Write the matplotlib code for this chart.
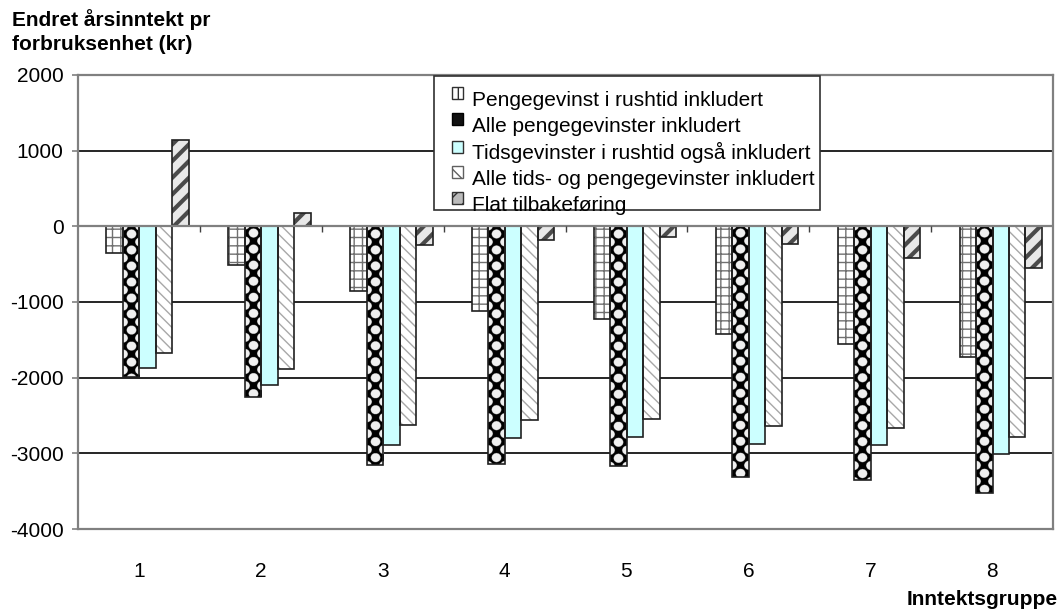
import numpy as np
import matplotlib.pyplot as plt
from matplotlib.patches import Patch, Rectangle
from matplotlib.legend_handler import HandlerPatch

plt.rcParams['font.family'] = ['Liberation Sans', 'DejaVu Sans']
plt.rcParams['axes.unicode_minus'] = False

groups = ['1', '2', '3', '4', '5', '6', '7', '8']
series = ['Pengegevinst i rushtid inkludert',
          'Alle pengegevinster inkludert',
          'Tidsgevinster i rushtid også inkludert',
          'Alle tids- og pengegevinster inkludert',
          'Flat tilbakeføring']

penger_rush = [-356, -509, -858, -1125, -1231, -1429, -1552, -1728]
penger_alle = [-1990, -2260, -3157, -3144, -3161, -3319, -3355, -3530]
tid_rush = [-1877, -2102, -2893, -2792, -2779, -2871, -2884, -3003]
tid_alle = [-1679, -1887, -2629, -2554, -2541, -2643, -2660, -2784]
flat = [1140, 172, -250, -175, -145, -232, -417, -554]

values = [penger_rush, penger_alle, tid_rush, tid_alle, flat]

GREY = '#808080'
bw = 0.1353
shift = 0.071
period = 211.0  # vertical repeat of the diamond texture, in data units

fig = plt.figure(figsize=(10.61, 6.12), dpi=100)
ax = fig.add_axes([0.0735, 0.1356, 0.9190, 0.7419])

x = np.arange(len(groups))


def diamond_texture(ax, rect, val):
    # light grey circles on black, leaving a column of black diamonds
    x0 = rect.get_x()
    w = rect.get_width()
    lo, hi = min(0, val), max(0, val)
    nx = 60
    ny = max(2, int(nx * (hi - lo) / period))
    a = (np.arange(nx) + 0.5) / nx
    b = hi - (np.arange(ny) + 0.5) / ny * (hi - lo)
    A, B = np.meshgrid(a, b / period)
    fb = B - np.floor(B)
    d1 = np.hypot(A - 0.5, fb - 0.5)
    d2 = np.minimum(np.hypot(A, np.minimum(fb, 1 - fb)),
                    np.hypot(A - 1, np.minimum(fb, 1 - fb)))
    grey = np.minimum(d1, d2) < 0.28
    img = np.where(grey, 0.94, 0.0)
    im = ax.imshow(img, cmap='gray', vmin=0, vmax=1, extent=[x0, x0 + w, lo, hi],
                   aspect='auto', interpolation='antialiased', zorder=3)
    im.set_clip_path(rect)


for i, vals in enumerate(values):
    pos = x + shift + (i - 2) * bw
    if i == 0:
        ax.bar(pos, vals, bw, color='white', edgecolor='#707070', hatch='++',
               linewidth=0, zorder=3)
    elif i == 1:
        bars = ax.bar(pos, vals, bw, color='black', linewidth=0, zorder=2)
        for r, v in zip(bars, vals):
            diamond_texture(ax, r, v)
    elif i == 2:
        ax.bar(pos, vals, bw, color='#ccffff', linewidth=0, zorder=3)
    elif i == 3:
        ax.bar(pos, vals, bw, color='white', edgecolor='#a8a8a8', hatch='\\\\\\',
               linewidth=0, zorder=3)
    else:
        bars = ax.bar(pos, vals, bw, color='#e8e8e8', edgecolor='#4a4a4a', hatch='//',
                      linewidth=0, zorder=3)
        for r in bars:
            if hasattr(r, 'set_hatch_linewidth'):
                r.set_hatch_linewidth(3.0)
    # outlines on top
    ax.bar(pos, vals, bw, fill=False, edgecolor='#202020', linewidth=1.2, zorder=4)

ax.set_xlim(-0.5, 7.5)
ax.set_ylim(-4000, 2000)
ax.set_yticks([2000, 1000, 0, -1000, -2000, -3000, -4000])
ax.set_xticks(x)
ax.set_xticklabels(groups)

for yv in [1000, -1000, -2000, -3000]:
    ax.axhline(yv, color='black', linewidth=1.2, zorder=1)
ax.axhline(0, color=GREY, linewidth=1.6, zorder=5)
ax.vlines(x[:-1] + 0.5, -80, 0, color='#404040', linewidth=1.0, zorder=5)

for s in ax.spines.values():
    s.set_color(GREY)
    s.set_linewidth(1.6)

ax.tick_params(axis='y', length=4.3, width=1.2, color=GREY, pad=6, labelsize=15)
ax.tick_params(axis='x', length=0, pad=24, labelsize=15)

fig.text(0.011, 0.985, 'Endret årsinntekt pr\nforbruksenhet (kr)',
         fontsize=15, fontweight='bold', va='top', ha='left', linespacing=1.32)
fig.text(0.997, 0.02, 'Inntektsgruppe', fontsize=15, fontweight='bold',
         ha='right', va='center')

# legend box, then the entries drawn without their own frame
fig.add_artist(Rectangle((434 / 1061, 1 - 210 / 612), 386 / 1061, 134 / 612,
                         transform=fig.transFigure, facecolor='white',
                         edgecolor='#303030', linewidth=1.2, zorder=9))


def raised_box(legend, orig_handle, xdescent, ydescent, width, height, fontsize):
    # small key square sitting near the top of the text line
    return Rectangle((-xdescent, -ydescent + 0.45 * height), width, height)


handles = [
    Patch(facecolor='white', edgecolor='#303030', hatch='|'),
    Patch(facecolor='#111111', edgecolor='black'),
    Patch(facecolor='#ccffff', edgecolor='#303030'),
    Patch(facecolor='white', edgecolor='#606060', hatch='\\\\'),
    Patch(facecolor='#bbbbbb', edgecolor='#303030', hatch='//'),
]
leg = fig.legend(handles, series, loc='upper left',
                 bbox_to_anchor=(452 / 1061, 1 - 91 / 612),
                 fontsize=15, frameon=False,
                 handlelength=0.55, handleheight=0.5, handletextpad=0.4,
                 labelspacing=0.32, borderpad=0, borderaxespad=0,
                 handler_map={Patch: HandlerPatch(patch_func=raised_box)})
leg.set_zorder(10)

fig.savefig('out.png', dpi=100)
